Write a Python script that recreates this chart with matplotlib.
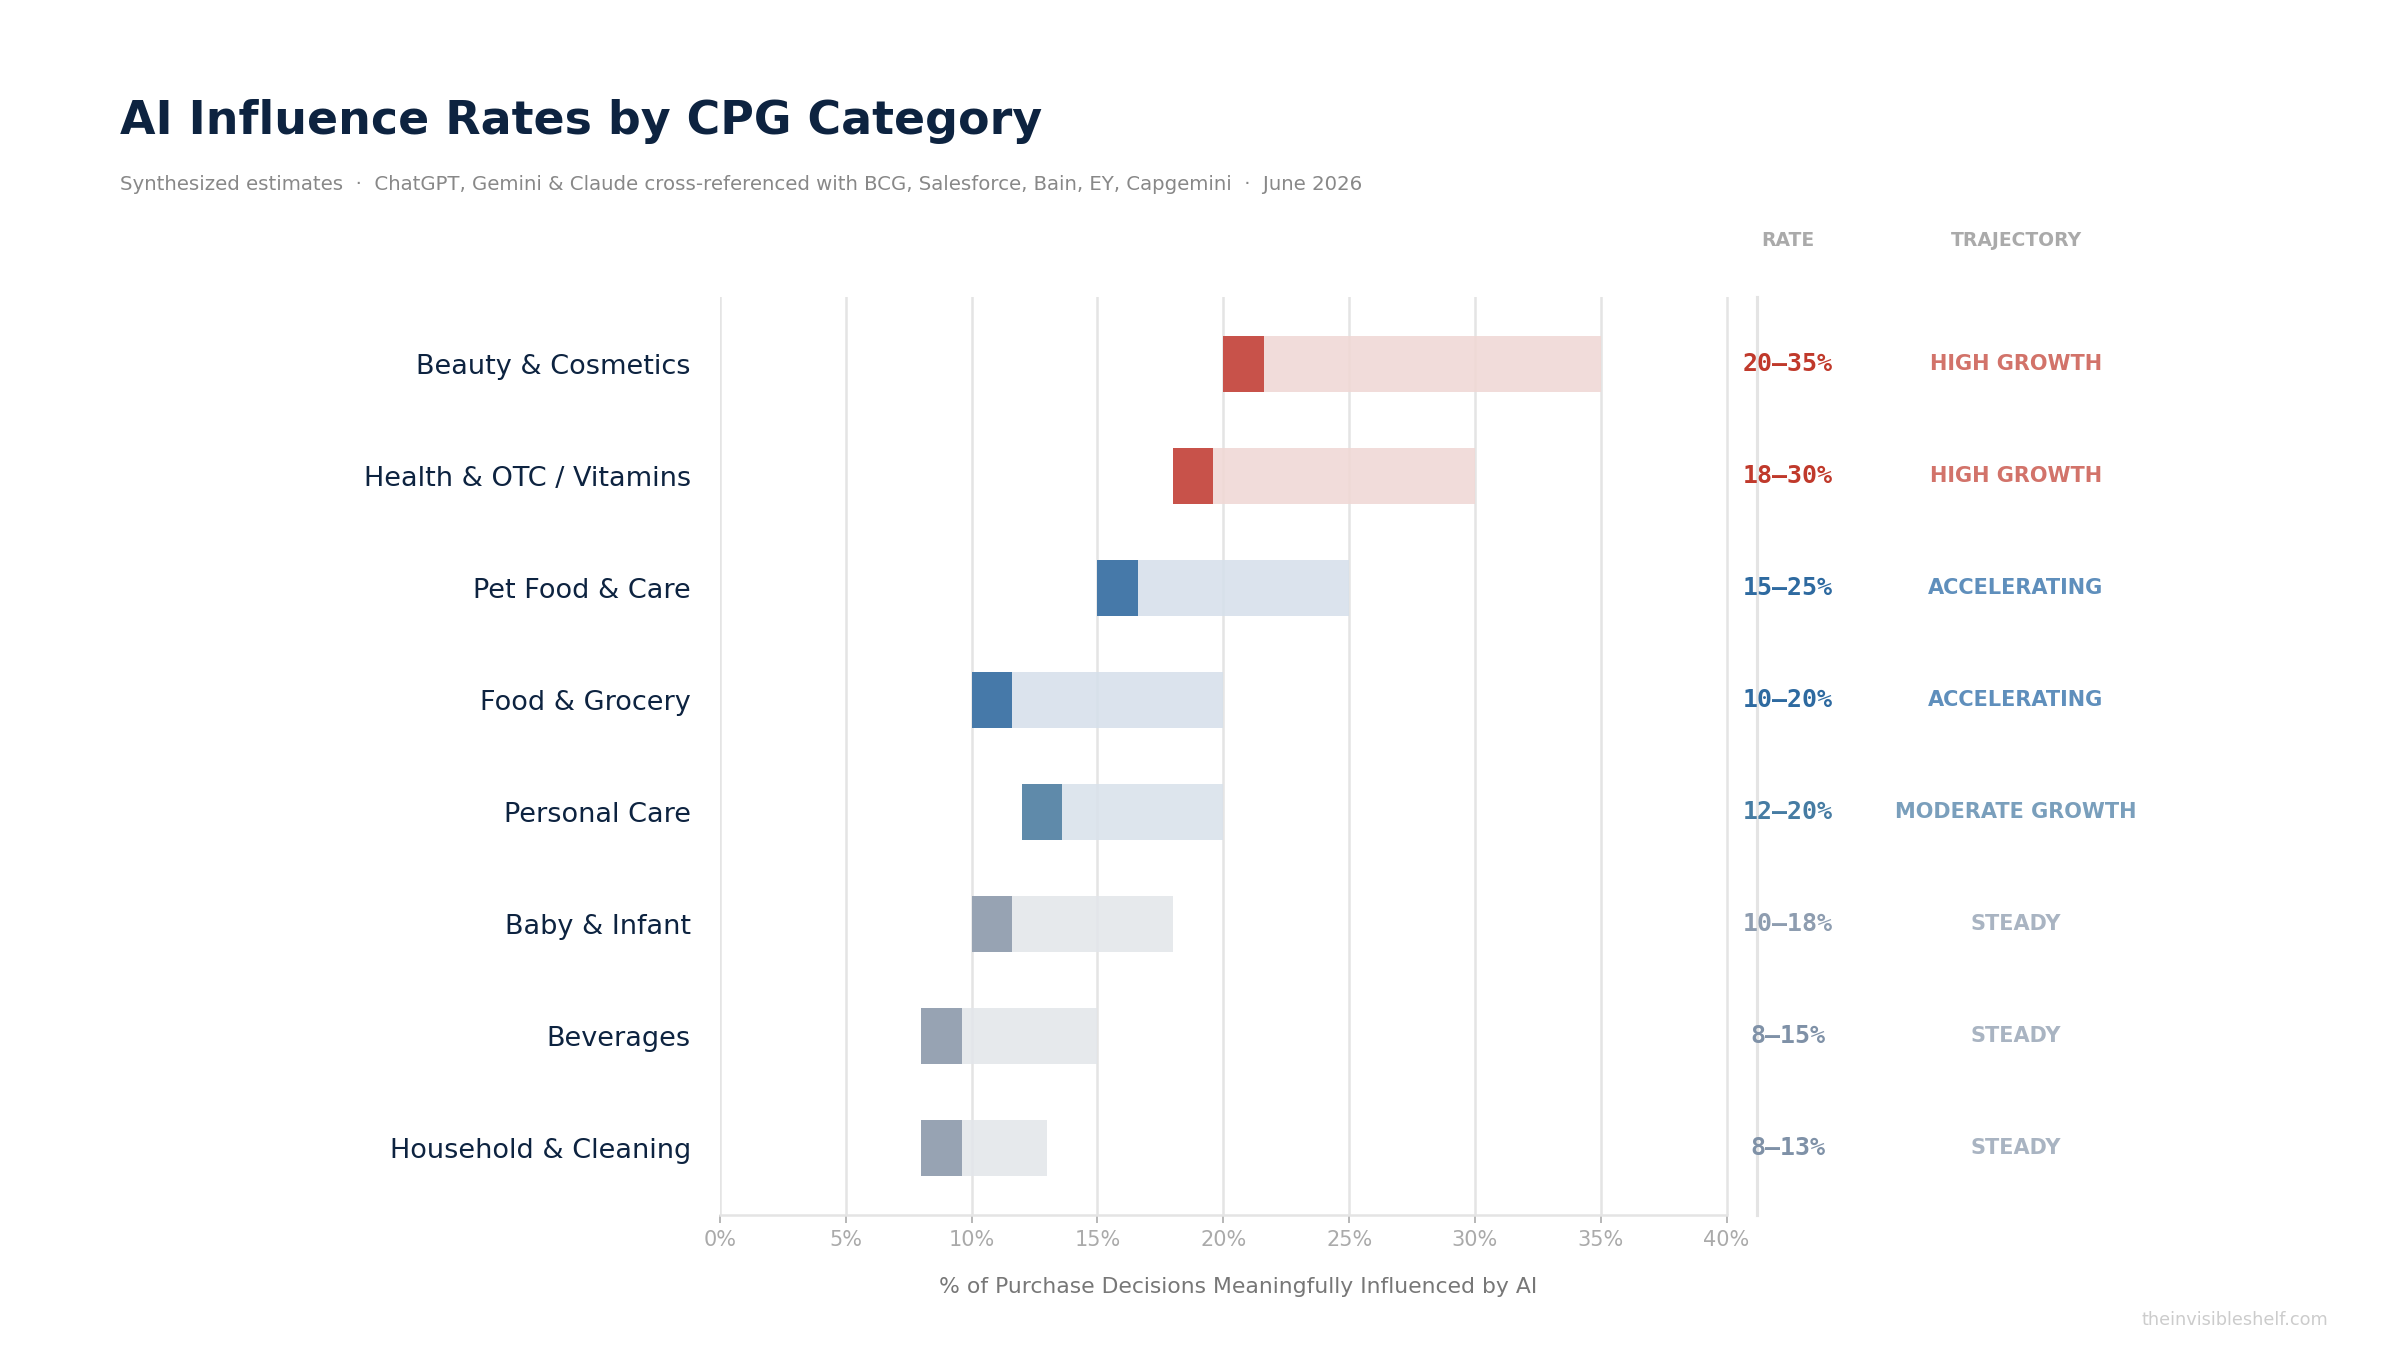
import matplotlib.pyplot as plt
from matplotlib.ticker import FuncFormatter

categories = ['Beauty & Cosmetics', 'Health & OTC / Vitamins', 'Pet Food & Care',
              'Food & Grocery', 'Personal Care', 'Baby & Infant', 'Beverages',
              'Household & Cleaning']
low = [20, 18, 15, 10, 12, 10, 8, 8]
high = [35, 30, 25, 20, 20, 18, 15, 13]
trajectory = ['HIGH GROWTH', 'HIGH GROWTH', 'ACCELERATING', 'ACCELERATING',
              'MODERATE GROWTH', 'STEADY', 'STEADY', 'STEADY']

# style per row: dark segment, light range, rate text, trajectory text
dark_col = ['#c8524a', '#c8524a', '#4679a9', '#4679a9', '#5f8aaa', '#97a3b3', '#97a3b3', '#97a3b3']
light_col = ['#f0d8d5', '#f0d8d5', '#d6e0eb', '#d6e0eb', '#d9e2eb', '#e3e6ea', '#e3e6ea', '#e3e6ea']
rate_col = ['#c0392b', '#c0392b', '#2e6aa0', '#2e6aa0', '#467ca3', '#8e9db0', '#7f91a7', '#7f91a7']
traj_col = ['#d2736a', '#d2736a', '#5f8fbc', '#5f8fbc', '#7a9fbc', '#a9b4c2', '#a9b4c2', '#a9b4c2']

NAVY = '#0d2340'
SEG = 1.6

fig = plt.figure(figsize=(16, 9), dpi=150)
ax = fig.add_axes([0.3, 0.1, 0.432, 0.68])

y = list(range(len(categories)))
widths = [h - l for l, h in zip(low, high)]
ax.barh(y, widths, left=low, height=0.5, color=light_col, alpha=0.88, zorder=2)
ax.barh(y, SEG, left=low, height=0.5, color=dark_col, zorder=3)

ax.set_xlim(0, 41.2)
ax.set_ylim(len(categories) - 0.4, -0.6)
ax.set_xticks(range(0, 41, 5))
ax.xaxis.set_major_formatter(FuncFormatter(lambda v, p: f'{v:.0f}%'))
ax.grid(axis='x', color='#e4e4e4', linewidth=1.2, zorder=1)
ax.set_axisbelow(True)
ax.set_yticks(y)
ax.set_yticklabels(categories, fontsize=13, color=NAVY)
ax.tick_params(axis='y', length=0, pad=14)
ax.tick_params(axis='x', colors='#aaaaaa', labelsize=10, length=4, pad=3)
for s in ['top', 'left']:
    ax.spines[s].set_visible(False)
ax.spines['bottom'].set_color('#e4e4e4')
ax.spines['bottom'].set_linewidth(1.2)
ax.spines['bottom'].set_bounds(0, 40)
ax.spines['right'].set_color('#e4e4e4')
ax.spines['right'].set_linewidth(1.5)
ax.set_xlabel('% of Purchase Decisions Meaningfully Influenced by AI',
              fontsize=10.5, color='#777777', labelpad=13)

# right-hand columns, placed in figure coords at each bar's height
rate_x = 1788 / 2400
traj_x = 2016 / 2400
fig.canvas.draw()
for i in y:
    fig_y = ax.transData.transform((0, i))[1]
    yy = fig.transFigure.inverted().transform((0, fig_y))[1]
    fig.text(rate_x, yy, f'{low[i]}\u2013{high[i]}%', ha='center', va='center',
             fontsize=12, fontweight='bold', family='DejaVu Sans Mono', color=rate_col[i])
    fig.text(traj_x, yy, trajectory[i], ha='center', va='center',
             fontsize=10, fontweight='bold', color=traj_col[i])

fig.text(rate_x, 1 - 240 / 1350, 'RATE', ha='center', va='center',
         fontsize=9, fontweight='bold', color='#aaaaaa')
fig.text(traj_x, 1 - 240 / 1350, 'TRAJECTORY', ha='center', va='center',
         fontsize=9, fontweight='bold', color='#aaaaaa')

fig.text(120 / 2400, 1 - 122 / 1350, 'AI Influence Rates by CPG Category',
         ha='left', va='center', fontsize=22, fontweight='bold', color=NAVY)
fig.text(120 / 2400, 1 - 184 / 1350,
         'Synthesized estimates  \u00b7  ChatGPT, Gemini & Claude cross-referenced with BCG, '
         'Salesforce, Bain, EY, Capgemini  \u00b7  June 2026',
         ha='left', va='center', fontsize=9.5, color='#888888')
fig.text(2328 / 2400, 1 - 1320 / 1350, 'theinvisibleshelf.com', ha='right', va='center',
         fontsize=8.5, color='#cccccc')

fig.savefig('out.png', dpi=150, facecolor='white')
